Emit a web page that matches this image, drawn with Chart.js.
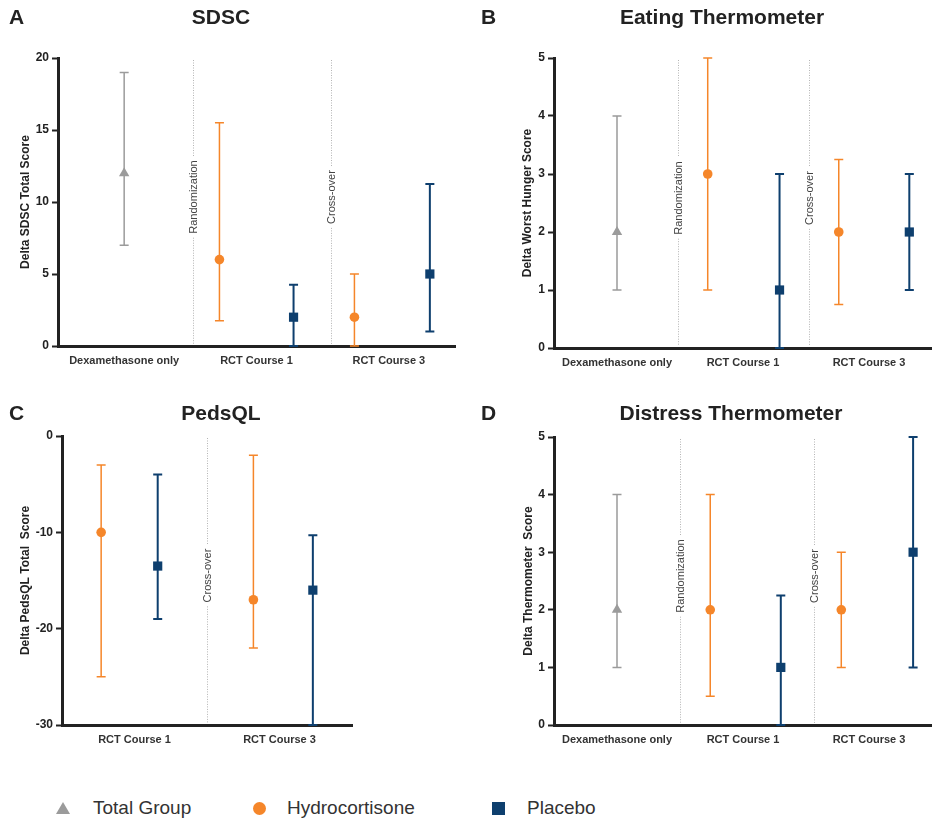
<!DOCTYPE html>
<html>
<head>
<meta charset="utf-8">
<script src="https://cdn.jsdelivr.net/npm/chart.js@4/dist/chart.umd.min.js"></script>
<style>
  body { margin: 0; background: #fff; }
  #wrap { position: relative; width: 932px; height: 821px; font-family: "Liberation Sans", Arial, sans-serif; }
  canvas { position: absolute; }
  .leg { position: absolute; top: 796px; font-size: 19px; color: #333; line-height: 24px; }
  .mk { position: absolute; }
</style>
</head>
<body>
<div id="wrap">
  <canvas id="chartA" width="466" height="380" style="left:0;top:0"></canvas>
  <canvas id="chartB" width="466" height="380" style="left:466px;top:0"></canvas>
  <canvas id="chartC" width="466" height="380" style="left:0;top:380px"></canvas>
  <canvas id="chartD" width="466" height="380" style="left:466px;top:380px"></canvas>

  <div class="mk" style="left:56px;top:802px;width:0;height:0;border-left:7px solid transparent;border-right:7px solid transparent;border-bottom:12px solid #9b9b9b"></div>
  <div class="leg" style="left:93px">Total Group</div>
  <div class="mk" style="left:253px;top:802px;width:13px;height:13px;border-radius:50%;background:#f5862a"></div>
  <div class="leg" style="left:287px">Hydrocortisone</div>
  <div class="mk" style="left:492px;top:802px;width:13px;height:13px;background:#0e3f6e"></div>
  <div class="leg" style="left:527px">Placebo</div>
</div>

<script>
// ---- data (mean, [low, high]) per category ----
const threeCats = ['Dexamethasone only', 'RCT Course 1', 'RCT Course 3']
const twoCats = ['RCT Course 1', 'RCT Course 3']

// A - SDSC
const sdscTotal = [12, null, null]
const sdscTotalErr = [[7, 19], null, null]
const sdscHydro = [null, 6, 2]
const sdscHydroErr = [null, [1.75, 15.5], [0, 5]]
const sdscPlacebo = [null, 2, 5]
const sdscPlaceboErr = [null, [0, 4.25], [1, 11.25]]
const sdscTicks = [0, 20, 5]

// B - Eating Thermometer
const eatTotal = [2, null, null]
const eatTotalErr = [[1, 4], null, null]
const eatHydro = [null, 3, 2]
const eatHydroErr = [null, [1, 5], [0.75, 3.25]]
const eatPlacebo = [null, 1, 2]
const eatPlaceboErr = [null, [0, 3], [1, 3]]
const eatTicks = [0, 5, 1]

// C - PedsQL
const pedsHydro = [-10, -17]
const pedsHydroErr = [[-25, -3], [-22, -2]]
const pedsPlacebo = [-13.5, -16]
const pedsPlaceboErr = [[-19, -4], [-30, -10.3]]
const pedsTicks = [-30, 0, 10]

// D - Distress Thermometer
const distTotal = [2, null, null]
const distTotalErr = [[1, 4], null, null]
const distHydro = [null, 2, 2]
const distHydroErr = [null, [0.5, 4], [1, 3]]
const distPlacebo = [null, 1, 3]
const distPlaceboErr = [null, [0, 2.25], [1, 5]]
const distTicks = [0, 5, 1]

// divider labels, placed between consecutive categories
const dividersThree = ['Randomization', 'Cross-over']
const dividersTwo = ['Cross-over']

const FONT = '"Liberation Sans", Arial, sans-serif'
const GRAY = '#9b9b9b', ORANGE = '#f5862a', NAVY = '#0e3f6e', INK = '#222'

Chart.defaults.font.family = FONT

function points(means, errs, offsets) {
  const out = []
  means.forEach((m, i) => {
    if (m === null) return
    out.push({ x: i + offsets[i], y: m, lo: errs[i][0], hi: errs[i][1] })
  })
  return out
}

const errorBars = {
  id: 'errorBars',
  beforeDatasetsDraw(chart) {
    const ctx = chart.ctx, y = chart.scales.y
    chart.data.datasets.forEach((ds, di) => {
      const meta = chart.getDatasetMeta(di)
      ctx.save()
      ctx.strokeStyle = ds.barColor
      ctx.lineWidth = ds.barWidth
      meta.data.forEach((el, i) => {
        const p = ds.data[i]
        const y1 = y.getPixelForValue(p.lo), y2 = y.getPixelForValue(p.hi)
        ctx.beginPath()
        ctx.moveTo(el.x, y1); ctx.lineTo(el.x, y2)
        ctx.moveTo(el.x - 4.5, y1); ctx.lineTo(el.x + 4.5, y1)
        ctx.moveTo(el.x - 4.5, y2); ctx.lineTo(el.x + 4.5, y2)
        ctx.stroke()
      })
      ctx.restore()
    })
  }
}

const dividers = {
  id: 'dividers',
  beforeDatasetsDraw(chart, args, opts) {
    const ctx = chart.ctx, area = chart.chartArea
    const midY = (area.top + area.bottom) / 2 - 5
    opts.labels.forEach((label, i) => {
      const x = Math.round(chart.scales.x.getPixelForValue(i + 0.5 + opts.shift[i])) + 0.5
      ctx.save()
      ctx.font = '11px ' + FONT
      const w = ctx.measureText(label).width
      ctx.strokeStyle = '#b4b4b4'
      ctx.lineWidth = 1
      ctx.setLineDash([1, 1.5])
      ctx.beginPath()
      ctx.moveTo(x, area.top + 2); ctx.lineTo(x, midY - w / 2 - 4)
      ctx.moveTo(x, midY + w / 2 + 4); ctx.lineTo(x, area.bottom - 2)
      ctx.stroke()
      ctx.translate(x, midY)
      ctx.rotate(-Math.PI / 2)
      ctx.fillStyle = '#444'
      ctx.textAlign = 'center'
      ctx.textBaseline = 'middle'
      ctx.fillText(label, 0, 0)
      ctx.restore()
    })
  }
}

const panelTitle = {
  id: 'panelTitle',
  afterDraw(chart, args, opts) {
    const ctx = chart.ctx
    ctx.save()
    ctx.fillStyle = INK
    ctx.font = 'bold 21px ' + FONT
    ctx.textBaseline = 'middle'
    ctx.textAlign = 'left'
    ctx.fillText(opts.letter, opts.letterX, opts.y)
    ctx.textAlign = 'center'
    ctx.fillText(opts.text, opts.textX, opts.y)
    ctx.restore()
  }
}

function makeChart(id, cfg) {
  const cats = cfg.cats
  const datasets = []
  if (cfg.total) datasets.push({
    label: 'Total Group', data: points(cfg.total, cfg.totalErr, cats.map(() => 0)),
    pointStyle: 'triangle', pointRadius: 6, backgroundColor: GRAY, borderColor: GRAY, borderWidth: 0,
    barColor: GRAY, barWidth: 1.5
  })
  datasets.push({
    label: 'Hydrocortisone', data: points(cfg.hydro, cfg.hydroErr, cfg.hcOff),
    pointStyle: 'circle', pointRadius: 4.8, backgroundColor: ORANGE, borderColor: ORANGE, borderWidth: 0,
    barColor: ORANGE, barWidth: 1.5
  })
  datasets.push({
    label: 'Placebo', data: points(cfg.placebo, cfg.placeboErr, cfg.pbOff),
    pointStyle: 'rect', pointRadius: 6.5, backgroundColor: NAVY, borderColor: NAVY, borderWidth: 0,
    barColor: NAVY, barWidth: 2
  })
  datasets.forEach(d => { d.clip = false; d.pointHoverRadius = d.pointRadius })

  return new Chart(document.getElementById(id), {
    type: 'scatter',
    data: { datasets },
    plugins: [errorBars, dividers, panelTitle],
    options: {
      responsive: false,
      animation: false,
      devicePixelRatio: 1,
      layout: { autoPadding: false, padding: { top: cfg.top, right: cfg.right, left: 0, bottom: 0 } },
      plugins: {
        legend: { display: false },
        tooltip: { enabled: false },
        dividers: { labels: cfg.dividers, shift: cfg.divShift },
        panelTitle: cfg.title
      },
      scales: {
        x: {
          type: 'linear',
          min: -0.5, max: cats.length - 0.5,
          afterBuildTicks: s => { s.ticks = cats.map((c, i) => ({ value: i })) },
          afterFit: s => { s.height = cfg.xH; s.paddingLeft = 0; s.paddingRight = 0 },
          ticks: {
            callback: v => cats[v],
            font: { size: 11, weight: 'bold' }, color: '#333', padding: 8, maxRotation: 0
          },
          grid: { display: false, drawTicks: false },
          border: { display: true, width: 3, color: INK }
        },
        y: {
          min: cfg.ticks[0], max: cfg.ticks[1],
          afterFit: s => { s.width = cfg.yW },
          ticks: { stepSize: cfg.ticks[2], font: { size: 12, weight: 'bold' }, color: INK, padding: 3 },
          grid: { drawOnChartArea: false, drawTicks: true, tickLength: 6, tickWidth: 2, tickColor: INK },
          border: { display: true, width: 3, color: INK },
          title: {
            display: true, text: cfg.yTitle, color: INK,
            font: { size: 12, weight: 'bold' }, padding: { top: cfg.yTitlePad, bottom: 0 }
          }
        }
      }
    }
  })
}

makeChart('chartA', {
  cats: threeCats, total: sdscTotal, totalErr: sdscTotalErr,
  hydro: sdscHydro, hydroErr: sdscHydroErr, placebo: sdscPlacebo, placeboErr: sdscPlaceboErr,
  ticks: sdscTicks, dividers: dividersThree, yTitle: 'Delta SDSC Total Score',
  hcOff: [0, -0.28, -0.26], pbOff: [0, 0.28, 0.31], divShift: [0.02, 0.06],
  top: 58, right: 11, yW: 58, xH: 34, yTitlePad: 18,
  title: { letter: 'A', letterX: 9, text: 'SDSC', textX: 221, y: 18 }
})

makeChart('chartB', {
  cats: threeCats, total: eatTotal, totalErr: eatTotalErr,
  hydro: eatHydro, hydroErr: eatHydroErr, placebo: eatPlacebo, placeboErr: eatPlaceboErr,
  ticks: eatTicks, dividers: dividersThree, yTitle: 'Delta Worst Hunger Score',
  hcOff: [0, -0.28, -0.24], pbOff: [0, 0.29, 0.32], divShift: [-0.015, 0.02],
  top: 58, right: 0, yW: 88, xH: 32, yTitlePad: 54,
  title: { letter: 'B', letterX: 15, text: 'Eating Thermometer', textX: 256, y: 18 }
})

makeChart('chartC', {
  cats: twoCats,
  hydro: pedsHydro, hydroErr: pedsHydroErr, placebo: pedsPlacebo, placeboErr: pedsPlaceboErr,
  ticks: pedsTicks, dividers: dividersTwo, yTitle: 'Delta PedsQL Total  Score',
  hcOff: [-0.23, -0.18], pbOff: [0.16, 0.23], divShift: [0],
  top: 56, right: 114, yW: 62, xH: 35, yTitlePad: 18,
  title: { letter: 'C', letterX: 9, text: 'PedsQL', textX: 221, y: 34 }
})

makeChart('chartD', {
  cats: threeCats, total: distTotal, totalErr: distTotalErr,
  hydro: distHydro, hydroErr: distHydroErr, placebo: distPlacebo, placeboErr: distPlaceboErr,
  ticks: distTicks, dividers: dividersThree, yTitle: 'Delta Thermometer  Score',
  hcOff: [0, -0.26, -0.22], pbOff: [0, 0.3, 0.35], divShift: [0, 0.06],
  top: 57, right: 0, yW: 88, xH: 35, yTitlePad: 55,
  title: { letter: 'D', letterX: 15, text: 'Distress Thermometer', textX: 265, y: 34 }
})
</script>
</body>
</html>
